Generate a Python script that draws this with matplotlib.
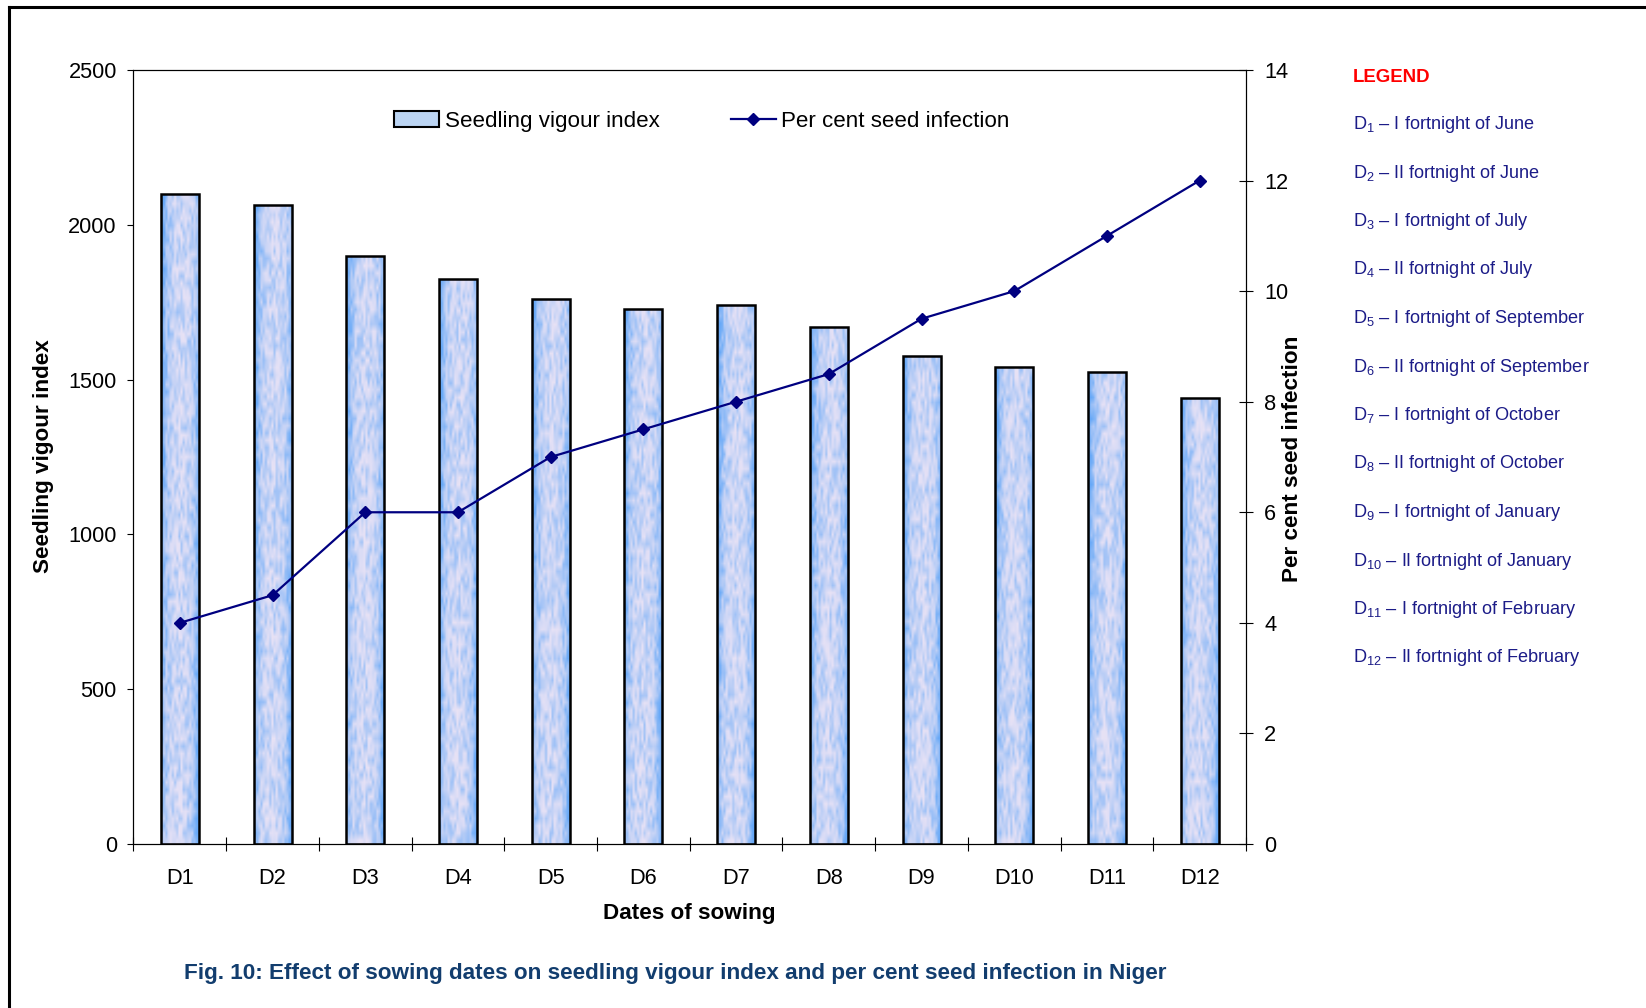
import numpy as np
import matplotlib.pyplot as plt
from matplotlib.patches import Patch
from matplotlib.lines import Line2D
from matplotlib.ticker import FixedLocator, MultipleLocator

plt.rcParams['font.family'] = ['Liberation Sans', 'DejaVu Sans']
plt.rcParams['mathtext.fontset'] = 'custom'
plt.rcParams['mathtext.rm'] = 'Liberation Sans'
plt.rcParams['mathtext.it'] = 'Liberation Sans:italic'
plt.rcParams['mathtext.bf'] = 'Liberation Sans:bold'

# sowing dates and the two measured series
dates = ['D1', 'D2', 'D3', 'D4', 'D5', 'D6', 'D7', 'D8', 'D9', 'D10', 'D11', 'D12']
vigour_index = [2100, 2065, 1900, 1825, 1760, 1727, 1740, 1669, 1577, 1540, 1523, 1442]
seed_infection = [4, 4.5, 6, 6, 7, 7.5, 8, 8.5, 9.5, 10, 11, 12]

# key for the date codes
legend_fortnight = ['I', 'II', 'I', 'II', 'I', 'II', 'I', 'II', 'I', 'II', 'I', 'II']
legend_month = ['June', 'June', 'July', 'July', 'September', 'September',
                'October', 'October', 'January', 'January', 'February', 'February']

NAVY = '#000080'
KEY_BLUE = '#1c1c88'
CAPTION_BLUE = '#123d6e'


def bar_texture(rng, nrows, ncols=18):
    '''blue edges with lavender/blue streaks in the middle of each bar'''
    u = np.linspace(0, 1, ncols)[None, :]
    v = np.linspace(1, 0, nrows)[:, None]
    left = (0.4 + 0.6 * v) * np.exp(-u / 0.12)
    right = (0.4 + 0.6 * (1 - v)) * np.exp(-(1 - u) / 0.12)
    noise = rng.random((nrows, ncols))
    weight = np.clip(left + right + 0.03 + 0.55 * noise ** 1.6, 0, 1)
    light = np.array([0.94, 0.90, 0.96])
    blue = np.array([0.40, 0.66, 0.97])
    return light + weight[..., None] * (blue - light)


fig = plt.figure(figsize=(16.46, 10.08), dpi=100)
ax = fig.add_axes([0.0811, 0.1627, 0.6759, 0.7679])
x = np.arange(len(dates))

rng = np.random.default_rng(7)
bars = ax.bar(x, vigour_index, width=0.41, facecolor='none',
              edgecolor='black', linewidth=1.8, zorder=3)
for bar in bars:
    x0, y0 = bar.get_x(), bar.get_y()
    w, h = bar.get_width(), bar.get_height()
    tex = bar_texture(rng, nrows=max(int(h * 0.3 / 7), 2))
    im = ax.imshow(tex, extent=(x0, x0 + w, y0, y0 + h),
                   aspect='auto', interpolation='bilinear', zorder=2)
    im.set_clip_path(bar)

ax.set_xlim(-0.5, len(dates) - 0.5)
ax.set_ylim(0, 2500)
ax.yaxis.set_major_locator(MultipleLocator(500))
ax.xaxis.set_major_locator(FixedLocator(x))
ax.set_xticklabels(dates)
ax.xaxis.set_minor_locator(FixedLocator(np.arange(-0.5, len(dates), 1)))
ax.tick_params(axis='y', direction='out', length=4.5, width=0.8, pad=7.5, labelsize=15.7)
ax.tick_params(axis='x', which='major', length=0, pad=17, labelsize=15.7)
ax.tick_params(axis='x', which='minor', direction='inout', length=10, width=0.8)
for sp in ax.spines.values():
    sp.set_linewidth(0.8)

ax2 = ax.twinx()
ax2.plot(x, seed_infection, color=NAVY, lw=1.6, marker='D', markersize=6.5)
ax2.set_ylim(0, 14)
ax2.yaxis.set_major_locator(MultipleLocator(2))
ax2.tick_params(axis='y', direction='inout', length=10, width=0.8, pad=8, labelsize=15.7)
for sp in ax2.spines.values():
    sp.set_linewidth(0.8)

handles = [Patch(facecolor='#bcd5f3', edgecolor='black', linewidth=1.5),
           Line2D([], [], color=NAVY, lw=1.6, marker='D', markersize=6.5)]
ax2.legend(handles, ['Seedling vigour index', 'Per cent seed infection'],
           loc='center', bbox_to_anchor=(0.511, 0.934), ncol=2, frameon=False,
           fontsize=16.1, columnspacing=3.2, handlelength=2.0, handletextpad=0.25)

# axis titles and caption
fig.text(0.0265, 0.547, 'Seedling vigour index', rotation=90, ha='center', va='center',
         fontsize=16.2, fontweight='bold')
fig.text(0.7855, 0.545, 'Per cent seed infection', rotation=90, ha='center', va='center',
         fontsize=16.2, fontweight='bold')
fig.text(0.419, 0.0933, 'Dates of sowing', ha='center', va='center',
         fontsize=16.2, fontweight='bold')
fig.text(0.410, 0.0345,
         'Fig. 10: Effect of sowing dates on seedling vigour index and per cent seed infection in Niger',
         ha='center', va='center', fontsize=16.2, fontweight='bold', color=CAPTION_BLUE)

# key for the sowing dates
fig.text(0.822, 1 - 77 / 1008, 'LEGEND', ha='left', va='center',
         fontsize=13.4, fontweight='bold', color='#ff0000')
for i, (fn, month) in enumerate(zip(legend_fortnight, legend_month)):
    y = 1 - (124.5 + 48.5 * i) / 1008
    fig.text(0.822, y, r'D$_{%d}$ – %s fortnight of %s' % (i + 1, fn, month),
             ha='left', va='center', fontsize=13.1, color=KEY_BLUE)

# outer frame (top and left edges)
fig.add_artist(Line2D([0.0055, 0.0055], [0, 0.9926], transform=fig.transFigure,
                      color='black', lw=2.2))
fig.add_artist(Line2D([0.0055, 1.0], [0.9926, 0.9926], transform=fig.transFigure,
                      color='black', lw=2.2))

fig.savefig('out.png', dpi=100)
